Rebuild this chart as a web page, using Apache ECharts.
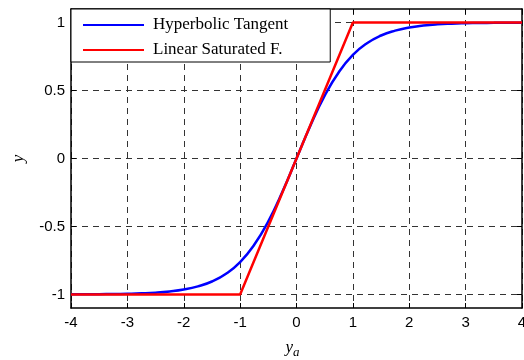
<!DOCTYPE html>
<html><head><meta charset="utf-8">
<script src="https://cdn.jsdelivr.net/npm/echarts@6/dist/echarts.min.js"></script>
<style>html,body{margin:0;padding:0;background:#fff}#c{width:524px;height:360px}</style>
</head><body><div id="c"></div>
<script>
var xTicks = [-4, -3, -2, -1, 0, 1, 2, 3, 4];
var yTicks = [-1, -0.5, 0, 0.5, 1];
var tanhX = [-4, -3.75, -3.5, -3.25, -3, -2.75, -2.5, -2.25, -2, -1.75, -1.5, -1.25, -1, -0.75, -0.5, -0.25, 0,
             0.25, 0.5, 0.75, 1, 1.25, 1.5, 1.75, 2, 2.25, 2.5, 2.75, 3, 3.25, 3.5, 3.75, 4];
var tanhY = [-0.999, -0.999, -0.998, -0.997, -0.995, -0.992, -0.987, -0.978, -0.964, -0.941, -0.905, -0.848, -0.762, -0.635, -0.462, -0.245, 0,
             0.245, 0.462, 0.635, 0.762, 0.848, 0.905, 0.941, 0.964, 0.978, 0.987, 0.992, 0.995, 0.997, 0.998, 0.999, 0.999];
var satX = [-4, -1, 1, 4];
var satY = [-1, -1, 1, 1];
var names = ['Hyperbolic Tangent', 'Linear Saturated F.'];

function pairs(xs, ys) { return xs.map(function (x, i) { return [x, ys[i]]; }); }

var grid = { left: 71, right: 2, top: 9, bottom: 52, containLabel: false, outerBoundsMode: 'none' };
var dash = { show: true, lineStyle: { color: '#333', width: 1, type: [6, 5] } };
var lbl = { fontFamily: 'Liberation Sans, Arial', fontSize: 15, color: '#000' };

var chart = echarts.init(document.getElementById('c'), null, { renderer: 'canvas' });
chart.setOption({
  animation: false,
  backgroundColor: '#fff',
  grid: grid,
  legend: {
    left: 71, top: 9, orient: 'vertical',
    data: names,
    icon: 'rect', itemWidth: 61, itemHeight: 2, itemGap: 7,
    padding: [7, 42, 3, 12],
    backgroundColor: '#fff', borderColor: '#000', borderWidth: 1, borderRadius: 0,
    textStyle: { fontFamily: 'Liberation Serif, Times New Roman', fontSize: 17, color: '#000', lineHeight: 18, padding: [0, 0, 0, 4] },
    z: 10
  },
  xAxis: [{
    type: 'value', min: -4, max: 4, interval: 1,
    axisLine: { show: true, onZero: false, lineStyle: { color: '#000', width: 1.5 } },
    axisTick: { show: true, inside: true, length: 5, lineStyle: { color: '#000' } },
    axisLabel: Object.assign({ margin: 7, customValues: xTicks }, lbl),
    splitLine: dash,
    name: '{i|y}{s|a}', nameLocation: 'middle', nameGap: 28,
    nameTextStyle: { padding: [0, 8, 0, 0], rich: {
      i: { fontFamily: 'Liberation Serif', fontStyle: 'italic', fontSize: 17, color: '#000' },
      s: { fontFamily: 'Liberation Serif', fontStyle: 'italic', fontSize: 13, color: '#000', padding: [10, 0, 0, 0] }
    } }
  }, {
    type: 'value', min: -4, max: 4, interval: 1, position: 'top',
    axisLine: { show: true, onZero: false, lineStyle: { color: '#000', width: 1.5 } },
    axisTick: { show: true, inside: true, length: 5, lineStyle: { color: '#000' } },
    axisLabel: { show: false }, splitLine: { show: false }
  }],
  yAxis: [{
    type: 'value', min: -1.1, max: 1.1,
    axisLine: { show: true, onZero: false, lineStyle: { color: '#000', width: 1.5 } },
    axisTick: { show: true, inside: true, length: 5, customValues: yTicks, lineStyle: { color: '#000' } },
    axisLabel: Object.assign({ margin: 6, customValues: yTicks }, lbl),
    splitLine: dash,
    name: 'y', nameLocation: 'middle', nameGap: 44, nameRotate: 90,
    nameTextStyle: { fontFamily: 'Liberation Serif', fontStyle: 'italic', fontSize: 17, color: '#000' }
  }, {
    type: 'value', min: -1.1, max: 1.1, position: 'right',
    axisLine: { show: true, onZero: false, lineStyle: { color: '#000', width: 1.5 } },
    axisTick: { show: true, inside: true, length: 5, customValues: yTicks, lineStyle: { color: '#000' } },
    axisLabel: { show: false }, splitLine: { show: false }
  }],
  series: [{
    name: names[0], type: 'line', data: pairs(tanhX, tanhY), smooth: true,
    showSymbol: false, symbol: 'none', color: '#0000ff',
    lineStyle: { color: '#0000ff', width: 2.5 }, z: 2
  }, {
    name: names[1], type: 'line', data: pairs(satX, satY),
    showSymbol: false, symbol: 'none', color: '#ff0000',
    lineStyle: { color: '#ff0000', width: 2.5 }, z: 3
  }]
});
</script></body></html>
